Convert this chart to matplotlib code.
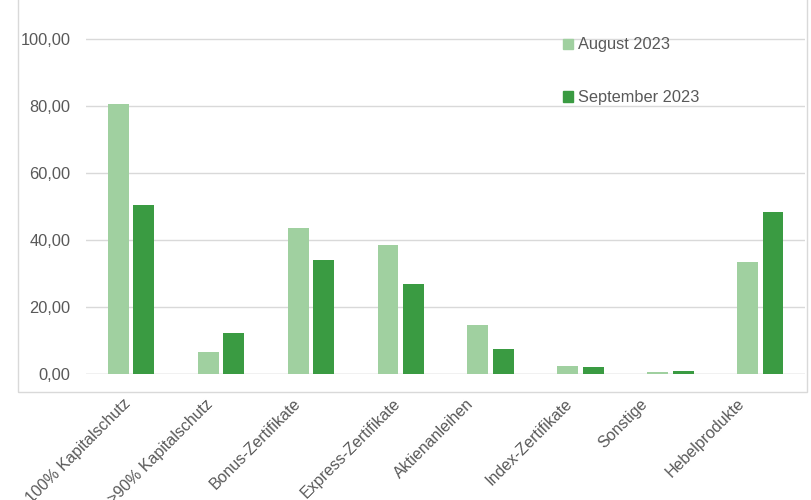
import matplotlib.pyplot as plt
from matplotlib.patches import Patch, Rectangle
from matplotlib.ticker import FuncFormatter
from matplotlib.transforms import ScaledTranslation
import numpy as np

plt.rcParams['font.family'] = ['Liberation Sans', 'DejaVu Sans']

categories = ['100% Kapitalschutz', '>90% Kapitalschutz', 'Bonus-Zertifikate',
              'Express-Zertifikate', 'Aktienanleihen', 'Index-Zertifikate',
              'Sonstige', 'Hebelprodukte']
august = [80.5, 6.5, 43.5, 38.5, 14.5, 2.3, 0.5, 33.5]
september = [50.5, 12.3, 34.0, 27.0, 7.5, 2.0, 0.8, 48.3]
series_names = ['August 2023', 'September 2023']

light = '#a0d0a0'
dark = '#3a9b42'
grey = '#595959'
gridc = '#d9d9d9'

fig = plt.figure(figsize=(8.11, 5.00), dpi=100)
ax = fig.add_axes([0.106, 0.252, 0.887, 0.737])

x = np.arange(len(categories))
w = 0.232
ax.bar(x - 0.141, august, width=w, color=light, zorder=3)
ax.bar(x + 0.141, september, width=w, color=dark, zorder=3)

ax.set_xlim(-0.5, len(categories) - 0.5)
ax.set_ylim(0, 110)
ax.set_yticks([0, 20, 40, 60, 80, 100])
ax.yaxis.set_major_formatter(FuncFormatter(lambda v, p: f"{v:.2f}".replace('.', ',')))
ax.grid(axis='y', color=gridc, lw=1, zorder=0)

for s in ax.spines.values():
    s.set_visible(False)
ax.axhline(0, color=gridc, lw=1, zorder=2)

ax.tick_params(axis='y', length=0, pad=11, labelsize=11.8, labelcolor=grey)
ax.tick_params(axis='x', length=0, pad=16, labelsize=11.5, labelcolor=grey)
ax.set_xticks(x)
ax.set_xticklabels(categories, rotation=45, ha='right', va='top', rotation_mode='anchor')

# Excel-style shift of the rotated labels (pixels)
shifts = [-8, -16, -18, -8, -25, -16, -31, -24]
for lab, dx in zip(ax.get_xticklabels(), shifts):
    lab.set_transform(lab.get_transform() + ScaledTranslation(dx / 100, 0, fig.dpi_scale_trans))

handles = [Patch(color=light), Patch(color=dark)]
ax.legend(handles, series_names, loc='upper left', bbox_to_anchor=(0.694, 0.925),
          bbox_transform=fig.transFigure, frameon=False, fontsize=11.8,
          labelcolor=grey, handlelength=0.6, handleheight=0.6, handletextpad=0.35,
          labelspacing=2.3, borderaxespad=0, borderpad=0)

fig.add_artist(Rectangle((18 / 811, 1 - 392 / 500), 789 / 811, 0.9, fill=False,
                         edgecolor=gridc, lw=1, transform=fig.transFigure))

fig.savefig('out.png', dpi=100)
